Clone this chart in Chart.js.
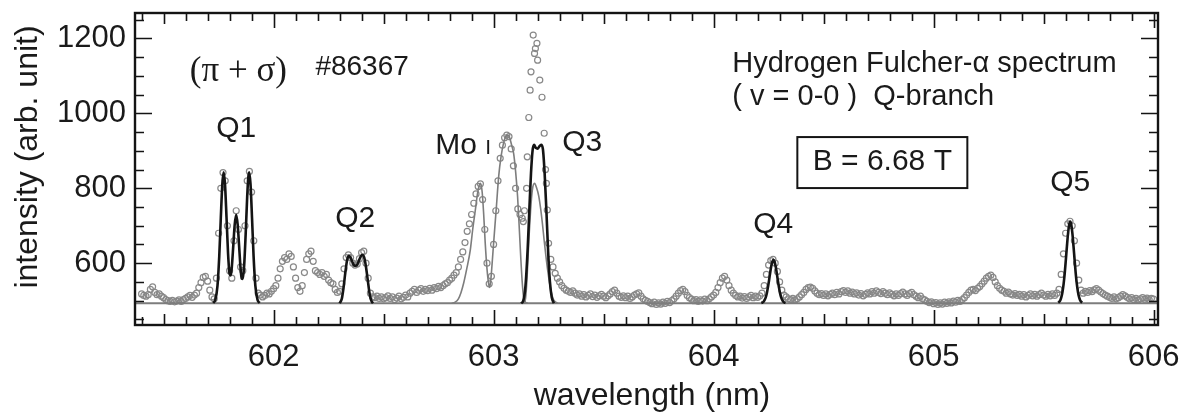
<!DOCTYPE html>
<html>
<head>
<meta charset="utf-8">
<script src="https://cdn.jsdelivr.net/npm/chart.js@4.4.1/dist/chart.umd.min.js"></script>
<style>
  html, body { margin: 0; padding: 0; background: #fff; }
  #wrap { width: 1184px; height: 418px; }
</style>
</head>
<body>
<div id="wrap"><canvas id="spectrum" width="1184" height="418"></canvas></div>
<script>
// measured spectrum, one value every 0.01 nm from 601.40 nm
const wlStart = 601.40;
const wlStep = 0.01;
const intensity = [
  518, 514, 512, 516, 530, 537, 522, 516, 518, 512, // 601.4x
  508, 503, 500, 498, 501, 497, 499, 502, 498, 503, // 601.5x
  506, 510, 514, 509, 515, 520, 535, 548, 562, 565, // 601.6x
  552, 528, 510, 505, 560, 680, 800, 842, 820, 700, // 601.7x
  580, 560, 660, 740, 690, 590, 580, 700, 820, 845, // 601.8x
  790, 660, 560, 520, 515, 510, 514, 520, 518, 525, // 601.9x
  532, 540, 560, 585, 605, 615, 610, 625, 618, 590, // 602.0x
  560, 535, 525, 540, 575, 610, 625, 632, 605, 580, // 602.1x
  575, 570, 575, 565, 570, 555, 548, 545, 530, 522, // 602.2x
  525, 545, 585, 615, 622, 615, 600, 595, 598, 612, // 602.3x
  628, 632, 600, 560, 520, 510, 508, 512, 506, 510, // 602.4x
  505, 508, 513, 506, 510, 503, 507, 512, 505, 509, // 602.5x
  515, 510, 520, 525, 530, 522, 528, 532, 525, 530, // 602.6x
  527, 533, 528, 535, 532, 538, 535, 540, 545, 548, // 602.7x
  555, 560, 568, 575, 590, 610, 630, 655, 685, 705, // 602.8x
  730, 760, 785, 805, 812, 770, 690, 600, 545, 565, // 602.9x
  650, 740, 820, 880, 915, 935, 942, 938, 905, 860, // 603.0x
  800, 745, 730, 720, 740, 800, 989, 1111, 1209, 1173, // 603.1x
  1142, 1089, 1043, 947, 813, 653, 610, 590, 573, 560, // 603.2x
  550, 540, 533, 528, 525, 522, 526, 520, 515, 518, // 603.3x
  512, 516, 510, 514, 518, 511, 515, 509, 513, 517, // 603.4x
  512, 508, 513, 518, 524, 528, 520, 512, 509, 513, // 603.5x
  508, 512, 506, 510, 515, 518, 521, 512, 505, 501, // 603.6x
  498, 495, 492, 496, 490, 494, 491, 496, 493, 498, // 603.7x
  495, 500, 505, 512, 520, 527, 530, 524, 514, 508, // 603.8x
  504, 500, 503, 498, 502, 499, 504, 500, 505, 510, // 603.9x
  515, 522, 535, 548, 560, 565, 555, 540, 528, 520, // 604.0x
  514, 510, 512, 507, 511, 506, 510, 514, 508, 512, // 604.1x
  509, 513, 520, 540, 570, 595, 607, 610, 600, 578, // 604.2x
  550, 528, 515, 510, 505, 503, 506, 502, 505, 510, // 604.3x
  516, 522, 530, 535, 536, 533, 526, 520, 516, 519, // 604.4x
  514, 518, 513, 517, 520, 516, 522, 518, 524, 527, // 604.5x
  522, 526, 520, 523, 518, 521, 515, 519, 513, 517, // 604.6x
  521, 518, 524, 520, 526, 522, 519, 524, 520, 516, // 604.7x
  521, 517, 513, 518, 514, 519, 523, 518, 514, 519, // 604.8x
  522, 516, 512, 508, 512, 505, 502, 498, 495, 497, // 604.9x
  492, 495, 490, 494, 491, 496, 493, 497, 494, 499, // 605.0x
  496, 501, 498, 503, 508, 515, 522, 528, 530, 527, // 605.1x
  533, 538, 545, 552, 560, 565, 568, 562, 550, 540, // 605.2x
  533, 528, 525, 520, 523, 518, 515, 519, 514, 517, // 605.3x
  512, 516, 510, 514, 518, 513, 517, 512, 516, 520, // 605.4x
  515, 512, 517, 513, 518, 514, 520, 530, 570, 625, // 605.5x
  680, 705, 712, 700, 660, 600, 555, 528, 520, 525, // 605.6x
  522, 527, 524, 529, 532, 528, 523, 519, 515, 512, // 605.7x
  509, 506, 510, 505, 508, 512, 516, 513, 509, 505, // 605.8x
  508, 503, 506, 502, 505, 508, 504, 507, 503, 506, // 605.9x
  504                                               // 606.00
];

// points of the strong narrow line under Q3 that fall between grid steps
const extraWl  = [603.135, 603.153, 603.166, 603.186, 603.197, 603.236, 603.244];
const extraInt = [711, 884, 1062, 1160, 1187, 850, 742];

// fitted profiles (black: H2 Q-lines, grey: Mo I and the second Q3 component)
const q1Wl  = [601.725, 601.735, 601.745, 601.753, 601.760, 601.767, 601.773, 601.779, 601.786, 601.793,
               601.800, 601.805, 601.810, 601.817, 601.823, 601.830, 601.837, 601.843, 601.850, 601.855,
               601.860, 601.866, 601.873, 601.880, 601.885, 601.889, 601.895, 601.902, 601.909, 601.917,
               601.927, 601.937];
const q1Int = [494, 502, 540, 619, 720, 812, 843, 812, 722, 626,
               571, 567, 589, 649, 702, 729, 701, 648, 585, 559,
               558, 592, 677, 778, 829, 843, 812, 720, 619, 540,
               502, 494];
const q2Wl  = [602.300, 602.310, 602.318, 602.326, 602.334, 602.342, 602.350, 602.358, 602.366, 602.374,
               602.382, 602.390, 602.398, 602.405, 602.412, 602.420, 602.428, 602.436, 602.444, 602.452];
const q2Int = [493, 505, 535, 575, 608, 620, 615, 603, 594, 593,
               598, 610, 620, 622, 615, 590, 555, 520, 500, 493];
const q3Wl  = [603.125, 603.135, 603.145, 603.155, 603.163, 603.170, 603.177, 603.184, 603.192, 603.200,
               603.208, 603.216, 603.224, 603.232, 603.240, 603.248, 603.256, 603.264, 603.274];
const q3Int = [493, 500, 540, 640, 750, 840, 900, 916, 908, 906,
               912, 916, 905, 840, 740, 630, 550, 510, 493];
const q4Wl  = [604.217, 604.222, 604.227, 604.232, 604.237, 604.242, 604.247, 604.252, 604.257, 604.262,
               604.267, 604.272, 604.277, 604.282, 604.287, 604.292, 604.297, 604.302, 604.307, 604.312,
               604.317, 604.322, 604.327];
const q4Int = [494, 495, 497, 502, 509, 520, 536, 554, 574, 592,
               604, 609, 604, 592, 574, 554, 536, 520, 509, 502,
               497, 495, 494];
const q5Wl  = [605.566, 605.571, 605.576, 605.581, 605.586, 605.591, 605.596, 605.601, 605.606, 605.611,
               605.616, 605.621, 605.626, 605.631, 605.636, 605.641, 605.646, 605.651, 605.656, 605.661,
               605.666, 605.671, 605.676];
const q5Int = [495, 497, 501, 510, 524, 545, 573, 608, 645, 679,
               702, 711, 702, 679, 645, 608, 573, 545, 524, 510,
               501, 497, 495];
const moWl  = [602.810, 602.825, 602.840, 602.852, 602.864, 602.879, 602.894, 602.905, 602.917, 602.928,
               602.940, 602.948, 602.955, 602.962, 602.970, 602.977, 602.982, 602.988, 602.994, 603.000,
               603.012, 603.023, 603.034, 603.045, 603.055, 603.064, 603.073, 603.082, 603.091, 603.100,
               603.109, 603.117, 603.124, 603.130, 603.136, 603.145, 603.155];
const moInt = [493, 496, 505, 522, 547, 588, 635, 690, 742, 790,
               813, 790, 730, 653, 585, 547, 535, 560, 605, 653,
               745, 831, 885, 920, 938, 942, 935, 915, 893, 845,
               778, 690, 609, 550, 511, 496, 493];
const q3bWl  = [603.135, 603.145, 603.152, 603.160, 603.168, 603.176, 603.186, 603.196, 603.205, 603.214,
                603.222, 603.230, 603.238, 603.246, 603.255, 603.264, 603.272, 603.282, 603.292];
const q3bInt = [493, 505, 560, 660, 740, 795, 813, 800, 780, 745,
                705, 660, 618, 580, 545, 518, 503, 496, 493];

const baselineLevel = 493;
const xRange = [601.37, 606.02];
const yRange = [435, 1268];
const xTicks = [602, 603, 604, 605, 606];
const yTicks = [600, 800, 1000, 1200];

const pts = (xs, ys) => xs.map((x, i) => ({ x, y: ys[i] }));

const specPoints = intensity
  .map((v, i) => ({ x: +(wlStart + i * wlStep).toFixed(2), y: v }))
  .concat(pts(extraWl, extraInt));

const BLACK = '#141414';
const GREY = '#7d7d7d';
const INK = '#1a1a1a';

function fitLine(xs, ys, color, width, order) {
  return {
    data: pts(xs, ys),
    showLine: true,
    borderColor: color,
    borderWidth: width,
    pointRadius: 0,
    cubicInterpolationMode: 'monotone',
    order
  };
}

// frame with inward ticks on all four sides, like the original plot
const framePlugin = {
  id: 'frame',
  afterDatasetsDraw(chart) {
    const { ctx, chartArea: a, scales: { x, y } } = chart;
    ctx.save();
    ctx.strokeStyle = BLACK;
    ctx.lineWidth = 1.6;
    ctx.beginPath();
    for (let i = 0; i <= 46; i++) {
      const v = 601.4 + i * 0.1;
      const px = Math.round(x.getPixelForValue(v)) + 0.5;
      const tenth = Math.round(v * 10) % 10;
      const len = tenth === 0 ? 15 : (tenth === 5 ? 11 : 8);
      ctx.moveTo(px, a.bottom); ctx.lineTo(px, a.bottom - len);
      ctx.moveTo(px, a.top); ctx.lineTo(px, a.top + len);
    }
    for (let v = 450; v <= 1250; v += 50) {
      const py = Math.round(y.getPixelForValue(v)) + 0.5;
      const len = v % 200 === 0 ? 17 : 9;
      ctx.moveTo(a.left, py); ctx.lineTo(a.left + len, py);
      ctx.moveTo(a.right, py); ctx.lineTo(a.right - len, py);
    }
    ctx.stroke();
    ctx.lineWidth = 2.4;
    ctx.strokeRect(a.left, a.top, a.right - a.left, a.bottom - a.top);

    // axis titles
    ctx.fillStyle = INK;
    ctx.textAlign = 'center';
    ctx.textBaseline = 'middle';
    ctx.font = '32px "Liberation Sans"';
    ctx.fillText('wavelength (nm)', 652, 396);
    ctx.translate(28, 157);
    ctx.rotate(-Math.PI / 2);
    ctx.fillText('intensity (arb. unit)', 0, 0);
    ctx.restore();
  }
};

// labels placed in data coordinates
const notes = [
  { text: 'Q1', x: 601.83, y: 958 },
  { text: 'Q2', x: 602.371, y: 718 },
  { text: 'Q3', x: 603.403, y: 921 },
  { text: 'Q4', x: 604.271, y: 702 },
  { text: 'Q5', x: 605.621, y: 814 }
];

const notePlugin = {
  id: 'notes',
  afterDatasetsDraw(chart) {
    const { ctx, scales: { x, y } } = chart;
    ctx.save();
    ctx.fillStyle = INK;
    ctx.textBaseline = 'middle';
    ctx.textAlign = 'center';
    ctx.font = '30px "Liberation Sans"';
    notes.forEach(n => ctx.fillText(n.text, x.getPixelForValue(n.x), y.getPixelForValue(n.y)));

    // "Mo I" with the ionisation stage set as a small capital
    ctx.textAlign = 'left';
    ctx.textBaseline = 'alphabetic';
    const mx = x.getPixelForValue(602.735), my = y.getPixelForValue(921) + 11;
    ctx.fillText('Mo', mx, my);
    const mw = ctx.measureText('Mo ').width;
    ctx.font = '21px "Liberation Sans"';
    ctx.fillText('I', mx + mw, my);

    ctx.textAlign = 'center';
    ctx.textBaseline = 'middle';
    ctx.font = '35px "Liberation Serif"';
    ctx.fillText('(\u03c0 + \u03c3)', x.getPixelForValue(601.84), y.getPixelForValue(1110));

    ctx.textAlign = 'left';
    ctx.font = '28px "Liberation Sans"';
    ctx.fillText('#86367', x.getPixelForValue(602.19), y.getPixelForValue(1123));
    ctx.font = '29px "Liberation Sans"';
    ctx.fillText('Hydrogen Fulcher-\u03b1 spectrum', x.getPixelForValue(604.085), y.getPixelForValue(1131));
    ctx.fillText('( v = 0-0 )  Q-branch', x.getPixelForValue(604.085), y.getPixelForValue(1043));

    // boxed field strength
    ctx.textAlign = 'center';
    ctx.font = '30px "Liberation Sans"';
    const bx = x.getPixelForValue(604.767), by = y.getPixelForValue(870);
    ctx.fillText('B = 6.68 T', bx, by);
    ctx.strokeStyle = BLACK;
    ctx.lineWidth = 2;
    ctx.strokeRect(bx - 85, by - 25, 170, 51);
    ctx.restore();
  }
};

new Chart(document.getElementById('spectrum'), {
  type: 'scatter',
  data: {
    datasets: [
      fitLine(q1Wl, q1Int, BLACK, 2.6, 1),
      fitLine(q2Wl, q2Int, BLACK, 2.6, 1),
      fitLine(q3Wl, q3Int, BLACK, 2.6, 1),
      fitLine(q4Wl, q4Int, BLACK, 2.6, 1),
      fitLine(q5Wl, q5Int, BLACK, 2.6, 1),
      fitLine(moWl, moInt, GREY, 1.6, 3),
      fitLine(q3bWl, q3bInt, GREY, 1.6, 3),
      {
        data: [{ x: xRange[0], y: baselineLevel }, { x: xRange[1], y: baselineLevel }],
        showLine: true,
        borderColor: GREY,
        borderWidth: 2,
        pointRadius: 0,
        order: 4
      },
      {
        data: specPoints,
        showLine: false,
        pointRadius: 3,
        pointBorderWidth: 1.2,
        pointBorderColor: '#888888',
        pointBackgroundColor: 'rgba(255,255,255,0)',
        order: 10
      }
    ]
  },
  options: {
    responsive: false,
    animation: false,
    events: [],
    layout: { padding: { top: 13, right: 26, left: 0, bottom: 0 } },
    plugins: { legend: { display: false }, tooltip: { enabled: false } },
    scales: {
      x: {
        type: 'linear',
        min: xRange[0],
        max: xRange[1],
        grid: { display: false, drawTicks: false },
        border: { display: false },
        afterBuildTicks: s => { s.ticks = xTicks.map(v => ({ value: v })); },
        afterFit: s => { s.height = 93; s.paddingLeft = 0; s.paddingRight = 0; },
        ticks: {
          padding: 14,
          color: INK,
          font: { family: 'Liberation Sans', size: 31 },
          maxRotation: 0,
          callback: v => String(v)
        }
      },
      y: {
        type: 'linear',
        min: yRange[0],
        max: yRange[1],
        grid: { display: false, drawTicks: false },
        border: { display: false },
        afterBuildTicks: s => { s.ticks = yTicks.map(v => ({ value: v })); },
        afterFit: s => { s.width = 135; s.paddingTop = 0; s.paddingBottom = 0; },
        ticks: {
          padding: 9,
          color: INK,
          font: { family: 'Liberation Sans', size: 31 },
          callback: v => String(v)
        }
      }
    }
  },
  plugins: [framePlugin, notePlugin]
});
</script>
</body>
</html>
